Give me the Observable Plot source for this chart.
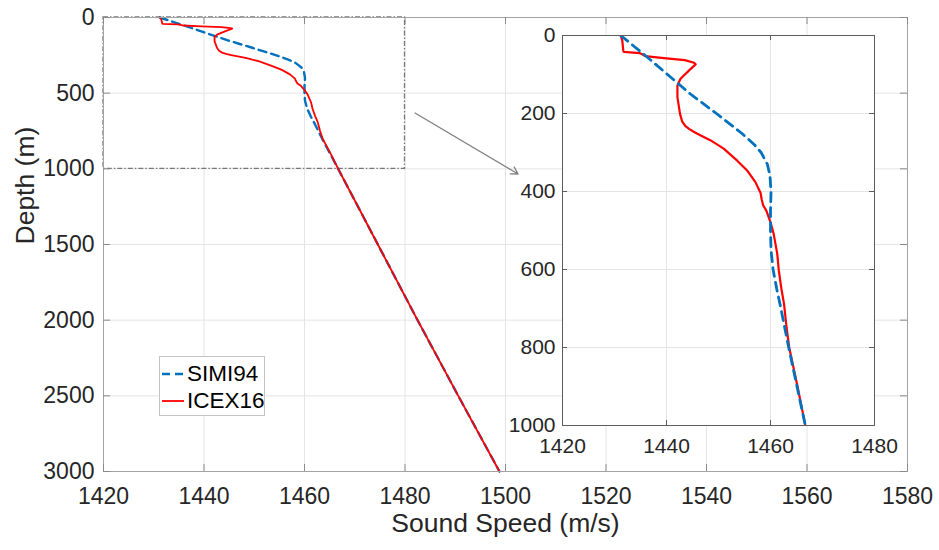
<!DOCTYPE html>
<html>
<head>
<meta charset="utf-8">
<script src="https://cdn.jsdelivr.net/npm/d3@7"></script>
<script src="https://cdn.jsdelivr.net/npm/@observablehq/plot@0.6"></script>
<style>
  body { margin: 0; background: #fff; }
  #wrap { position: relative; width: 939px; height: 550px; font-family: "Liberation Sans", Arial, Helvetica, sans-serif; }
  #wrap svg { position: absolute; left: 0; top: 0; }
  #legend { position: absolute; left: 159px; top: 356px; width: 106px; height: 60px; border: 1px solid #c4c4c4; background: #fff; box-sizing: border-box; font-size: 22.5px; color: #000; }
  #legend .row { position: absolute; left: 0; height: 26px; display: flex; align-items: center; }
  #legend .row svg { position: static; margin-left: 2px; margin-right: 3px; }
</style>
</head>
<body>
<div id="wrap">
  <div id="legend"></div>
</div>
<script>
// ---------- data ----------
const seriesNames = ["SIMI94", "ICEX16"];

const simiDepth = [0, 50, 100, 150, 200, 250, 280, 300, 330, 360, 400, 450, 500, 550, 600, 650, 700, 800, 900, 1000, 1500, 2000, 2500, 3000];
const simiSpeed = [1431.2, 1435.8, 1440.2, 1444.6, 1449.6, 1454.4, 1456.9, 1458.2, 1459.4, 1459.9, 1460.1, 1460.0, 1460.0, 1460.1, 1460.5, 1461.2, 1462.0, 1463.5, 1465.1, 1466.7, 1474.6, 1482.5, 1490.6, 1498.8];

const icexDepth = [0, 13, 40, 42, 45, 48, 53, 58, 63, 70, 74, 90, 111, 128, 158, 201, 220, 232, 240, 248, 256, 269, 290, 321, 346, 376, 404, 420, 436, 449, 479, 508, 560, 603, 650, 688, 750, 800, 900, 1000, 1500, 2000, 2500, 3000];
const icexSpeed = [1431.2, 1431.5, 1431.7, 1431.8, 1434.8, 1435.3, 1435.9, 1439.5, 1443.5, 1445.3, 1445.6, 1444.3, 1442.7, 1442.1, 1442.1, 1442.6, 1443.0, 1443.6, 1444.4, 1445.4, 1446.5, 1448.5, 1451.0, 1453.6, 1455.5, 1457.1, 1458.1, 1458.3, 1458.6, 1459.2, 1460.0, 1460.6, 1461.3, 1461.6, 1462.1, 1462.6, 1463.1, 1463.6, 1465.2, 1466.7, 1474.6, 1482.5, 1490.6, 1498.8];

const mainXTicks = [1420, 1440, 1460, 1480, 1500, 1520, 1540, 1560, 1580];
const mainYTicks = [0, 500, 1000, 1500, 2000, 2500, 3000];
const insetXTicks = [1420, 1440, 1460, 1480];
const insetYTicks = [0, 200, 400, 600, 800, 1000];

const zoomBoxX = [1420, 1480];
const zoomBoxY = [0, 1000];
const arrowFrom = [1482, 631];
const arrowTo = [1502.5, 1034];

const xLabel = "Sound Speed (m/s)";
const yLabel = "Depth (m)";

// ---------- build ----------
const simi = simiDepth.map((d, i) => ({depth: d, speed: simiSpeed[i]}));
const icex = icexDepth.map((d, i) => ({depth: d, speed: icexSpeed[i]}));
const zoomBox = [{x1: zoomBoxX[0], x2: zoomBoxX[1], y1: zoomBoxY[0], y2: zoomBoxY[1]}];
const arrowData = [{x1: arrowFrom[0], y1: arrowFrom[1], x2: arrowTo[0], y2: arrowTo[1]}];

const FONT = '"Liberation Sans", Arial, Helvetica, sans-serif';
const W = 939, H = 550;
const BLUE = "#0072BD", RED = "#FF0000", GRID = "#e4e4e4", TXT = "#262626";

// main axes
const mL = 103, mR = 32, mT = 17, mB = 79;
const mW = W - mL - mR, mH = H - mT - mB;
const mTick = 7;

const main = Plot.plot({
  width: W, height: H,
  marginLeft: mL, marginRight: mR, marginTop: mT, marginBottom: mB,
  style: {fontFamily: FONT, background: "transparent", color: TXT},
  x: {domain: [1420, 1580]},
  y: {domain: [0, 3000], reverse: true},
  marks: [
    Plot.gridX(mainXTicks, {stroke: GRID, strokeOpacity: 1}),
    Plot.gridY(mainYTicks, {stroke: GRID, strokeOpacity: 1}),
    Plot.rect(zoomBox, {x1: "x1", x2: "x2", y1: "y1", y2: "y2", fill: "none", stroke: "#777", strokeWidth: 1.3, strokeDasharray: "5,2,1.5,2"}),
    Plot.line(simi, {x: "speed", y: "depth", stroke: BLUE, strokeWidth: 2.4, strokeDasharray: "8,5"}),
    Plot.line(icex, {x: "speed", y: "depth", stroke: RED, strokeWidth: 1.8}),
    Plot.frame({stroke: "#a3a3a3"}),
    Plot.tickX(mainXTicks, {x: d => d, insetTop: mH - mTick, stroke: "#8a8a8a"}),
    Plot.tickX(mainXTicks, {x: d => d, insetBottom: mH - mTick, stroke: "#8a8a8a"}),
    Plot.tickY(mainYTicks, {y: d => d, insetRight: mW - mTick, stroke: "#8a8a8a"}),
    Plot.tickY(mainYTicks, {y: d => d, insetLeft: mW - mTick, stroke: "#8a8a8a"}),
    Plot.axisX(mainXTicks, {tickSize: 0, tickPadding: 16, fontSize: 23, tickFormat: "d", label: null, fill: TXT}),
    Plot.axisY(mainYTicks, {tickSize: 0, tickPadding: 9, fontSize: 23, tickFormat: "d", label: null, fill: TXT}),
    Plot.arrow(arrowData, {x1: "x1", y1: "y1", x2: "x2", y2: "y2", stroke: "#808080", strokeWidth: 1.3, headLength: 9}),
    Plot.text([xLabel], {frameAnchor: "bottom", dy: 60, fontSize: 26.5, fill: TXT}),
    Plot.text([yLabel], {frameAnchor: "left", dx: -78, rotate: -90, fontSize: 26.5, fill: TXT})
  ]
});

// inset axes
const iL = 562, iR = 65, iT = 35, iB = 125;
const iW = W - iL - iR, iH = H - iT - iB;
const iTick = 5;

const inset = Plot.plot({
  width: W, height: H,
  marginLeft: iL, marginRight: iR, marginTop: iT, marginBottom: iB,
  style: {fontFamily: FONT, background: "transparent", color: TXT},
  x: {domain: [1420, 1480]},
  y: {domain: [0, 1000], reverse: true},
  marks: [
    Plot.frame({fill: "white", stroke: "none"}),
    Plot.gridX(insetXTicks, {stroke: GRID, strokeOpacity: 1}),
    Plot.gridY(insetYTicks, {stroke: GRID, strokeOpacity: 1}),
    Plot.line(icex, {x: "speed", y: "depth", stroke: RED, strokeWidth: 2.2, clip: true}),
    Plot.line(simi, {x: "speed", y: "depth", stroke: BLUE, strokeWidth: 2.8, strokeDasharray: "9,6", clip: true}),
    Plot.frame({stroke: "#5c5c5c"}),
    Plot.tickX(insetXTicks, {x: d => d, insetTop: iH - iTick, stroke: "#5c5c5c"}),
    Plot.tickX(insetXTicks, {x: d => d, insetBottom: iH - iTick, stroke: "#5c5c5c"}),
    Plot.tickY(insetYTicks, {y: d => d, insetRight: iW - iTick, stroke: "#5c5c5c"}),
    Plot.tickY(insetYTicks, {y: d => d, insetLeft: iW - iTick, stroke: "#5c5c5c"}),
    Plot.axisX(insetXTicks, {tickSize: 0, tickPadding: 13, fontSize: 21, tickFormat: "d", label: null, fill: TXT}),
    Plot.axisY(insetYTicks, {tickSize: 0, tickPadding: 7, fontSize: 21, tickFormat: "d", label: null, fill: TXT})
  ]
});

const wrap = document.getElementById("wrap");
const legend = document.getElementById("legend");
wrap.insertBefore(main, legend);
wrap.insertBefore(inset, legend);

// legend
const legendStyles = [
  {stroke: BLUE, width: 2.4, dash: "8,5"},
  {stroke: RED, width: 1.8, dash: null}
];
seriesNames.forEach((name, i) => {
  const row = document.createElement("div");
  row.className = "row";
  row.style.top = (4 + i * 27) + "px";
  const s = legendStyles[i];
  row.innerHTML = `<svg width="22" height="10"><line x1="0" y1="5" x2="22" y2="5" stroke="${s.stroke}" stroke-width="${s.width}" ${s.dash ? `stroke-dasharray="${s.dash}"` : ""}/></svg><span>${name}</span>`;
  legend.appendChild(row);
});
</script>
</body>
</html>
